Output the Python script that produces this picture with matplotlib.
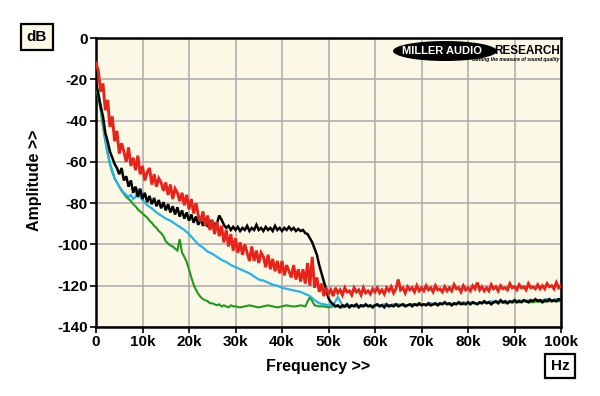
import numpy as np
import matplotlib
matplotlib.use("Agg")
import matplotlib.pyplot as plt
from matplotlib.patches import Ellipse

plt.rcParams['font.family'] = ['Liberation Sans', 'DejaVu Sans']

# ---------------- data (frequency in kHz, level in dB) ----------------
red_freq_k = np.arange(0, 100.01, 0.5)
red_db = [
    -12, -16, -26, -22, -35, -30, -43, -38, -50, -45,
    -56, -51, -55, -60, -53, -62, -58, -64, -57, -66,
    -62, -69, -65, -63, -71, -66, -72, -68, -70, -74,
    -70, -76, -71, -78, -73, -75, -79, -75, -81, -76,
    -83, -78, -85, -80, -86, -89, -84, -91, -86, -93,
    -88, -95, -89, -96, -91, -99, -93, -101, -95, -103,
    -97, -104, -99, -105, -100, -104, -108, -101, -108, -103,
    -109, -104, -106, -111, -105, -112, -107, -113, -108, -114,
    -108, -115, -110, -113, -116, -110, -117, -112, -118, -112,
    -119, -109, -120, -106, -121, -116, -123, -119, -125, -121,
    -124,
    -122, -125, -121, -123.5, -122, -124.5, -121, -123, -122.5, -124.5,
    -121, -123, -122, -124.5, -121, -123.5, -122.5, -124, -121.5, -123,
    -121, -123.5, -122, -124, -121, -122.5, -120.5, -123.5, -121.5, -117,
    -122, -121, -123.5, -120.5, -122, -121, -123, -120, -122.5, -121,
    -122.5, -120, -122, -121, -123, -120, -122, -121.5, -123, -120.5,
    -122.5, -121, -122.5, -119.5, -121.5, -121, -123, -120, -122, -121,
    -122.5, -120, -121.5, -118.5, -122, -120.5, -122.5, -121, -122.5, -119.5,
    -121.5, -120.5, -122.5, -120, -121.5, -121, -122, -119, -121, -120.5,
    -122, -119.5, -121, -120.5, -122, -119, -121, -120.5, -121.5, -119.5,
    -121.5, -120, -121.5, -119, -120.5, -120, -121.5, -118.5, -121, -120,
]

black_freq_k = np.arange(0, 100.01, 0.5)
black_db = [
    -22, -27, -33, -38, -46, -50, -55, -58, -61, -63,
    -66, -63, -69, -67, -72, -69, -75, -72, -77, -73,
    -78, -75, -79.5, -76.5, -80.5, -77.5, -81.5, -78.5, -82.5, -79.5,
    -83.5, -80.5, -84.5, -81.5, -85.5, -82, -86.5, -83.5, -87.5, -84.5,
    -88.5, -85.5, -89.5, -86.5, -90.5, -87.5, -91, -88, -91.5, -89,
    -91.5, -90, -90, -86, -88, -90.5, -92, -91, -93, -91.5,
    -93, -91.5, -93.5, -92, -93, -91, -93.5, -92, -93, -90.5,
    -93, -92, -93.5, -91.5, -93, -92, -93.5, -91, -93, -92,
    -93.5, -92, -93, -91.5, -93, -92, -93.5, -92.5, -93.5, -93,
    -94.5, -95, -97, -99, -102, -105, -110, -114, -118, -122,
    -126,
    -128, -129, -130, -129.5, -130.5, -129.5, -130, -129, -130.5, -129.5,
    -130, -129, -130.5, -129.5, -130, -129, -130, -129.5, -130.5, -129.5,
    -129, -130, -129.5, -130.5, -129, -130, -129.5, -130, -129, -130,
    -129.5, -129, -130, -129.5, -129, -130, -129, -129.5, -128.5, -129.5,
    -129, -129.5, -128.5, -129.5, -129, -128.5, -129.5, -128.5, -129, -128,
    -129, -128.5, -129.5, -128.5, -129, -128, -129, -128.5, -129, -128,
    -129, -128, -128.5, -129, -128, -128.5, -127.5, -128.5, -128, -129,
    -128, -127.5, -128.5, -127, -128, -127.5, -128.5, -127.5, -128, -127,
    -128, -127.5, -128, -127, -127.5, -128, -127, -127.5, -126.5, -127.5,
    -127, -128, -127, -127.5, -126.5, -127.5, -127, -127.5, -126.5, -127,
]

cyan_freq_k = np.concatenate([np.arange(0, 10.01, 0.5), np.arange(11, 100.01, 1)])
cyan_db = [
    -23, -27, -33, -42, -49, -55, -61, -64, -68, -70,
    -72, -73.5, -75, -76, -77, -76, -78, -77, -73, -77,
    -78.5,
    -81, -82.5, -84.5, -86, -87.5, -88.5, -90, -91.5, -93, -95,
    -97.5, -100, -101.5, -103.5, -104.5, -106, -107.5, -108.5, -110, -111,
    -112, -113, -114, -115.5, -117, -117.5, -118.5, -119.5, -120, -121,
    -121.5, -122, -122.5, -123, -124, -125, -127, -128.5, -129, -129.5,
    -129.5, -125.5, -129.5, -130, -129.5, -130, -129.5, -129.5, -130, -129.5,
    -129.5, -129, -129.5, -129, -129.5, -129, -129.5, -129, -129, -129,
    -129, -128.5, -129, -128.5, -128.5, -129, -128.5, -128.5, -128, -128.5,
    -128, -128.5, -128, -128, -127.5, -128, -127.5, -128, -127.5, -127.5,
    -127, -127.5, -127, -127.5, -127, -127, -126.5, -127, -126.5, -127,
]

green_freq_k = np.concatenate([np.arange(0, 30.01, 0.5), np.arange(31, 100.01, 1)])
green_db = [
    -24, -29, -35, -43, -50, -56, -61, -65, -68, -70,
    -72, -74, -75.5, -77, -78, -79, -80.5, -81.5, -83, -84,
    -85, -86, -87, -88.5, -89.5, -91, -92, -93.5, -94.5, -96,
    -98.5, -99.5, -100.5, -101, -102, -103, -97.5, -104, -106, -108.5,
    -112, -116, -119.5, -122, -124, -125.5, -126.5, -127, -127.5, -128.5,
    -128.5, -129, -129.5, -129, -130, -129.5, -130, -130.5, -129.5, -130,
    -130,
    -130.5, -130, -129.5, -130, -130.5, -130, -129.5, -130, -130.5, -130,
    -129.5, -130, -130, -129.5, -130, -125.5, -129.5, -130, -130, -130.5,
    -130, -130, -130.5, -130, -129.5, -130, -130, -129.5, -130, -129.5,
    -129.5, -129.5, -130, -129.5, -129, -129.5, -129.5, -129, -129.5, -129,
    -129, -129.5, -129, -129, -128.5, -129, -129, -128.5, -129, -128.5,
    -128.5, -128.5, -128.5, -128, -128.5, -128, -128, -128.5, -128, -128,
    -128, -127.5, -128, -128, -127.5, -128, -127.5, -127.5, -127.5, -127.5,
]

x_ticks_hz = [0, 10000, 20000, 30000, 40000, 50000, 60000, 70000, 80000, 90000, 100000]
x_tick_labels = ["0", "10k", "20k", "30k", "40k", "50k", "60k", "70k", "80k", "90k", "100k"]
y_ticks = [0, -20, -40, -60, -80, -100, -120, -140]
y_tick_labels = ["0", "-20", "-40", "-60", "-80", "-100", "-120", "-140"]

# ---------------- figure ----------------
fig = plt.figure(figsize=(6.0, 3.96), dpi=100, facecolor="white")
ax = fig.add_axes([96 / 600, 1 - 327 / 396, 465 / 600, 289 / 396])
ax.set_facecolor("#fcf8e6")

series = [
    (green_freq_k, green_db, "#1e9a1e", 1.5),
    (cyan_freq_k, cyan_db, "#22b4ea", 1.6),
    (black_freq_k, black_db, "#000000", 1.8),
    (red_freq_k, red_db, "#e8231a", 2.1),
]
for fk, db, col, lw in series:
    ax.plot(np.asarray(fk) * 1000, db, color=col, lw=lw, zorder=3,
            solid_joinstyle="miter")

ax.set_xlim(0, 100000)
ax.set_ylim(-140, 0)
ax.set_xticks(x_ticks_hz)
ax.set_xticklabels(x_tick_labels)
ax.set_yticks(y_ticks)
ax.set_yticklabels(y_tick_labels)
ax.grid(True, color="#a9a9a9", lw=1.1, zorder=1)
ax.set_axisbelow(True)
for s in ax.spines.values():
    s.set_linewidth(1.8)
    s.set_color("black")
ax.tick_params(direction="out", length=4, width=1.2, pad=2, labelsize=11)
for lab in ax.get_xticklabels() + ax.get_yticklabels():
    lab.set_fontweight("bold")

fig.text(318 / 600, 1 - 366 / 396, "Frequency >>", ha="center", va="center",
         fontsize=11.5, fontweight="bold")
fig.text(35 / 600, 1 - 180 / 396, "Amplitude >>", ha="center", va="center",
         fontsize=11.5, fontweight="bold", rotation=90)
fig.text(37 / 600, 1 - 37 / 396, "dB", ha="center", va="center", fontsize=11,
         fontweight="bold",
         bbox=dict(boxstyle="square,pad=0.4", fc="#fcf8e6", ec="black", lw=1.6))
fig.text(560 / 600, 1 - 366 / 396, "Hz", ha="center", va="center", fontsize=11,
         fontweight="bold",
         bbox=dict(boxstyle="square,pad=0.35", fc="white", ec="black", lw=1.6))

# logo
ell = Ellipse((445 / 600, 1 - 51 / 396), 104 / 600, 20 / 396,
              transform=fig.transFigure, fc="black", ec="none", zorder=5)
fig.patches.append(ell)
fig.text(442 / 600, 1 - 51 / 396, "MILLER AUDIO", ha="center", va="center",
         fontsize=8, fontweight="bold", color="white", zorder=6)
fig.text(560 / 600, 1 - 51 / 396, "RESEARCH", ha="right", va="center",
         fontsize=8.5, fontweight="bold", color="black", zorder=6)
fig.text(559 / 600, 1 - 60 / 396, "Getting the measure of sound quality",
         ha="right", va="center", fontsize=3.6, fontweight="bold",
         style="italic", color="black", zorder=6)

fig.savefig("out.png", dpi=100, facecolor="white")
